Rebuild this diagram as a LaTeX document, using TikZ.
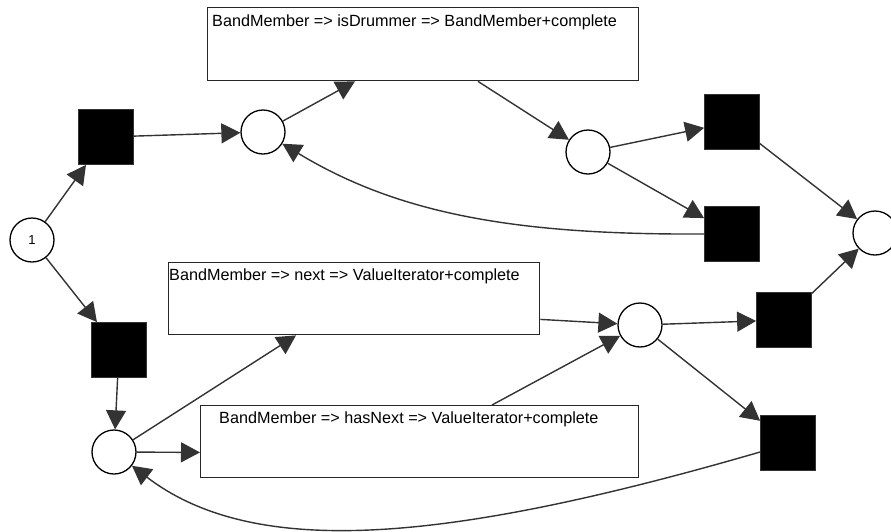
\documentclass[tikz,border=0pt]{standalone}
\usepackage{fontspec}
\setmainfont{Liberation Sans}
\usetikzlibrary{arrows.meta,calc}
\begin{document}
\begin{tikzpicture}[x=1pt,y=-1pt,
  place/.style={circle,draw=black,line width=1.3pt,fill=white,minimum size=44pt,inner sep=0pt,font=\fontsize{13}{15}\selectfont},
  trans/.style={rectangle,draw=black!80,fill=black,minimum size=55pt,inner sep=0pt,line width=0.8pt},
  taskbox/.style={rectangle,draw=black!85,line width=1.4pt,fill=white,inner sep=0pt,anchor=north west},
  lbl/.style={anchor=base west,inner sep=0pt,font=\fontsize{16.2}{19}\selectfont},
  arc/.style={draw=black!80,line width=1.4pt,-{Triangle[length=19pt,width=20pt]}}
]
\useasboundingbox (0,0) rectangle (891,531);

% task boxes with their labels
\node[taskbox,minimum width=431pt,minimum height=73pt] (b1) at (207,7) {};
\node[taskbox,minimum width=371pt,minimum height=72pt] (b2) at (168,262) {};
\node[taskbox,minimum width=438pt,minimum height=72pt] (b3) at (200,405) {};
\node[lbl] (t1) at (212,26.6) {BandMember => isDrummer => BandMember+complete};
\node[lbl] (t2) at (169,280) {BandMember => next => ValueIterator+complete};
\node[lbl] (t3) at (219,423) {BandMember => hasNext => ValueIterator+complete};

% places
\node[place] (c1) at (32,240) {1};
\node[place] (c2) at (263,132) {};
\node[place] (c3) at (588,152) {};
\node[place] (c4) at (875,233) {};
\node[place] (c5) at (114,452) {};
\node[place] (c6) at (640,325) {};

% transitions
\node[trans] (s1) at (106,137) {};
\node[trans] (s2) at (732,122) {};
\node[trans] (s3) at (732,234) {};
\node[trans] (s4) at (119,350) {};
\node[trans] (s5) at (784,320) {};
\node[trans] (s6) at (788,443) {};

% arcs
\draw[arc] (c1) -- (s1);
\draw[arc] (s1) -- (c2);
\draw[arc] (c2) -- ($(b1.south west)+(148,0)$);
\draw[arc] ($(b1.south west)+(271,0)$) -- (c3);
\draw[arc] (c3) -- (s2);
\draw[arc] (c3) -- (s3);
\draw[arc] (s3.west) .. controls +(-185,1) and +(137,83) .. (c2);
\draw[arc] (s2) -- (c4);
\draw[arc] (s5) -- (c4);
\draw[arc] (c1) -- (s4);
\draw[arc] (s4) -- (c5);
\draw[arc] (c5) -- ($(b2.south west)+(128,0)$);
\draw[arc] (c5) -- ($(b3.south west)+(0,-26)$);
\draw[arc] ($(b2.south east)+(0,-16)$) -- (c6);
\draw[arc] ($(b3.north west)+(292,0)$) -- (c6);
\draw[arc] (c6) -- (s5);
\draw[arc] (c6) -- (s6);
\draw[arc] ($(s6.west)+(0,9)$) .. controls +(-317,92) and +(140,107) .. (c5);
\end{tikzpicture}
\end{document}
